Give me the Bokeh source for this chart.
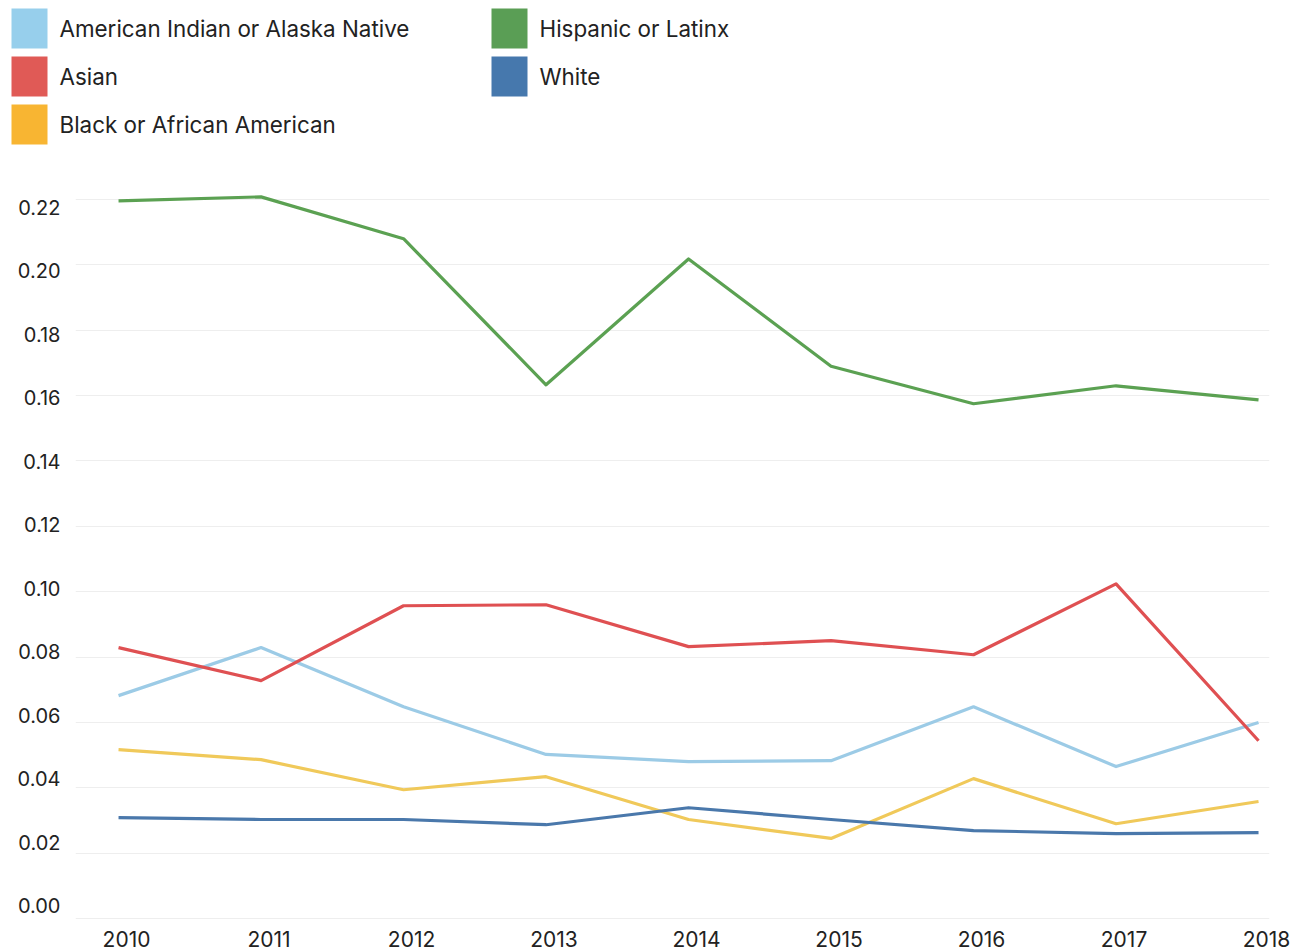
from bokeh.plotting import figure
from bokeh.models import (Range1d, FixedTicker, PrintfTickFormatter, ColumnDataSource,
                          LinearAxis, Grid)
from bokeh.layouts import column, row
from bokeh.embed import file_html
from bokeh.resources import INLINE
from bokeh.core.properties import value

years = [2010, 2011, 2012, 2013, 2014, 2015, 2016, 2017, 2018]
categories = ["American Indian or Alaska Native", "Asian", "Black or African American",
              "Hispanic or Latinx", "White"]
aian = [0.0682, 0.0829, 0.0648, 0.0502, 0.0480, 0.0483, 0.0648, 0.0465, 0.0600]
asian = [0.0829, 0.0728, 0.0957, 0.0960, 0.0832, 0.0850, 0.0807, 0.1024, 0.0544]
black = [0.0517, 0.0486, 0.0394, 0.0434, 0.0303, 0.0245, 0.0428, 0.0290, 0.0358]
hispanic = [0.2196, 0.2208, 0.2080, 0.1633, 0.2018, 0.1690, 0.1575, 0.1630, 0.1587]
white = [0.0309, 0.0303, 0.0303, 0.0287, 0.0339, 0.0303, 0.0269, 0.0260, 0.0263]
series = [aian, asian, black, hispanic, white]
y_ticks = [0.00, 0.02, 0.04, 0.06, 0.08, 0.10, 0.12, 0.14, 0.16, 0.18, 0.20, 0.22]

swatch_colors = ["#97cfec", "#e05a56", "#f8b532", "#5a9e55", "#4678ad"]
line_colors = ["#9ccbe6", "#df5052", "#f0c95a", "#5ba152", "#4a78ab"]

FONT = "Inter"
TEXT = "#222222"
W = 1296

# ---- legend figure (no axes) ----
LH = 150
leg = figure(width=W, height=LH, output_backend="svg", toolbar_location=None,
             x_axis_type=None, y_axis_type=None,
             x_range=Range1d(0, W), y_range=Range1d(LH, 0),
             min_border=0, outline_line_color=None)
leg.grid.visible = False
col_w, row_h = 480, 48
cols = [i // 3 for i in range(len(categories))]
rows = [i % 3 for i in range(len(categories))]
src = ColumnDataSource(dict(
    x=[29 + c * col_w for c in cols],
    y=[28 + r * row_h for r in rows],
    tx=[59 + c * col_w for c in cols],
    label=categories,
    color=swatch_colors,
))
leg.rect(x="x", y="y", width=36, height=40, fill_color="color", line_color=None, source=src)
leg.text(x="tx", y="y", text="label", text_font=value(FONT), text_font_size="22.4px",
         text_color=TEXT, text_baseline="middle", text_align="left", source=src)

# ---- main chart ----
PX_PER_YEAR = 142.5
BORDER_L, BORDER_R = 75, 27
frame_w = W - BORDER_L - BORDER_R
x0 = 2009.698
x1 = x0 + frame_w / PX_PER_YEAR
p = figure(width=W, height=800, output_backend="svg", toolbar_location=None,
           x_axis_type=None, y_axis_type=None,
           x_range=Range1d(x0, x1), y_range=Range1d(-0.0003, 0.22581),
           min_border_left=BORDER_L, min_border_right=BORDER_R,
           min_border_top=30, min_border_bottom=31,
           outline_line_color=None)
# label scales (the reference's tick labels sit slightly offset from the data positions)
p.extra_x_ranges = {"xlab": Range1d(x0 - 8 / PX_PER_YEAR, x1 - 8 / PX_PER_YEAR)}
p.extra_y_ranges = {"ylab": Range1d(-0.00441, 0.22851)}

p.add_layout(Grid(dimension=1, ticker=FixedTicker(ticks=y_ticks),
                  grid_line_color="#eeeeee", grid_line_width=1))

for s, c in zip(series, line_colors):
    p.line(years, s, line_color=c, line_width=3.2, line_join="round")

xaxis = LinearAxis(x_range_name="xlab", ticker=FixedTicker(ticks=years))
yaxis = LinearAxis(y_range_name="ylab", ticker=FixedTicker(ticks=y_ticks),
                   formatter=PrintfTickFormatter(format="%.2f"))
for ax in (xaxis, yaxis):
    ax.axis_line_color = None
    ax.major_tick_line_color = None
    ax.minor_tick_line_color = None
    ax.major_label_text_font = FONT
    ax.major_label_text_color = TEXT
yaxis.major_label_text_font_size = "20px"
xaxis.major_label_text_font_size = "21px"
yaxis.major_label_standoff = 9
xaxis.major_label_standoff = 5
p.add_layout(xaxis, "below")
p.add_layout(yaxis, "left")

layout = column(row(leg), p, spacing=0)
open("out.html", "w").write(file_html(layout, INLINE))
